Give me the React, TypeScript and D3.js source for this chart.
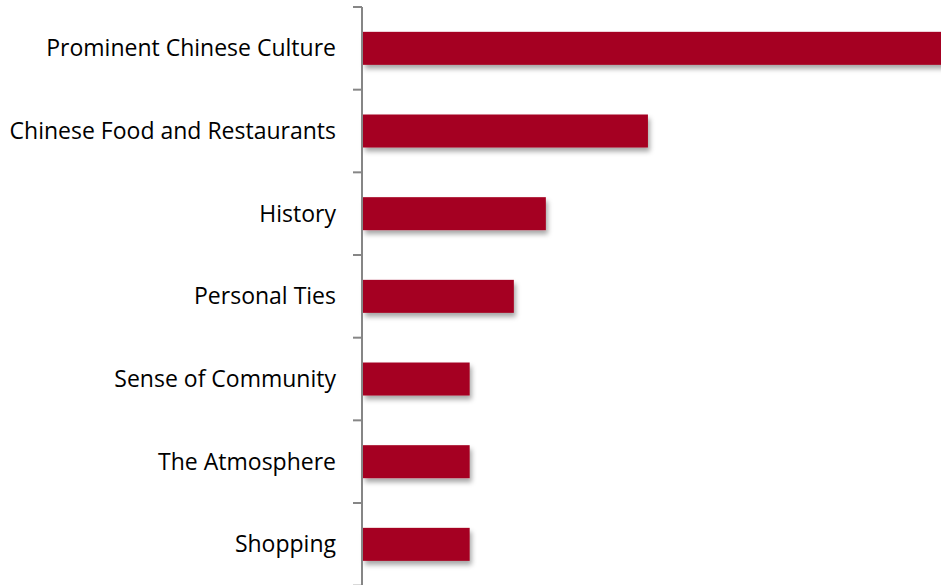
import React from "react";
import * as d3 from "d3";

const categories = [
  "Prominent Chinese Culture",
  "Chinese Food and Restaurants",
  "History",
  "Personal Ties",
  "Sense of Community",
  "The Atmosphere",
  "Shopping",
];
const values = [40, 18.7, 12, 9.9, 7, 7, 7];

const W = 941;
const H = 585;

export default function App() {
  const axisX = 362;
  const x = d3.scaleLinear().domain([0, 38]).range([axisX + 1, 942]);
  const y = d3
    .scaleBand<string>()
    .domain(categories)
    .range([7, 7 + 82.67 * categories.length]);
  const step = y.step();
  const top = 7;
  const ticks = d3.range(categories.length + 1).map((i) => top + i * step);

  return (
    <svg
      width={W}
      height={H}
      style={{ position: "absolute", left: 0, top: 0, background: "#fff" }}
    >
      <defs>
        <filter id="sh" x="-10%" y="-30%" width="130%" height="180%">
          <feDropShadow dx="2" dy="4" stdDeviation="2.5" floodColor="#000" floodOpacity="0.35" />
        </filter>
      </defs>
      {categories.map((c, i) => (
        <rect
          key={c}
          x={x(0)}
          y={(y(c) as number) + (step - 33) / 2}
          width={x(values[i]) - x(0)}
          height={33}
          fill="#A50021"
          filter="url(#sh)"
        />
      ))}
      <line x1={axisX} x2={axisX} y1={top} y2={H + 5} stroke="#868686" strokeWidth={2} />
      {ticks.map((t, i) => (
        <line key={i} x1={axisX - 9} x2={axisX} y1={t} y2={t} stroke="#868686" strokeWidth={2} />
      ))}
      {categories.map((c) => (
        <text
          key={c}
          x={336}
          y={(y(c) as number) + step / 2}
          dy="0.35em"
          textAnchor="end"
          fontFamily="'Open Sans', sans-serif"
          fontSize={23}
          fill="#000"
        >
          {c}
        </text>
      ))}
    </svg>
  );
}
